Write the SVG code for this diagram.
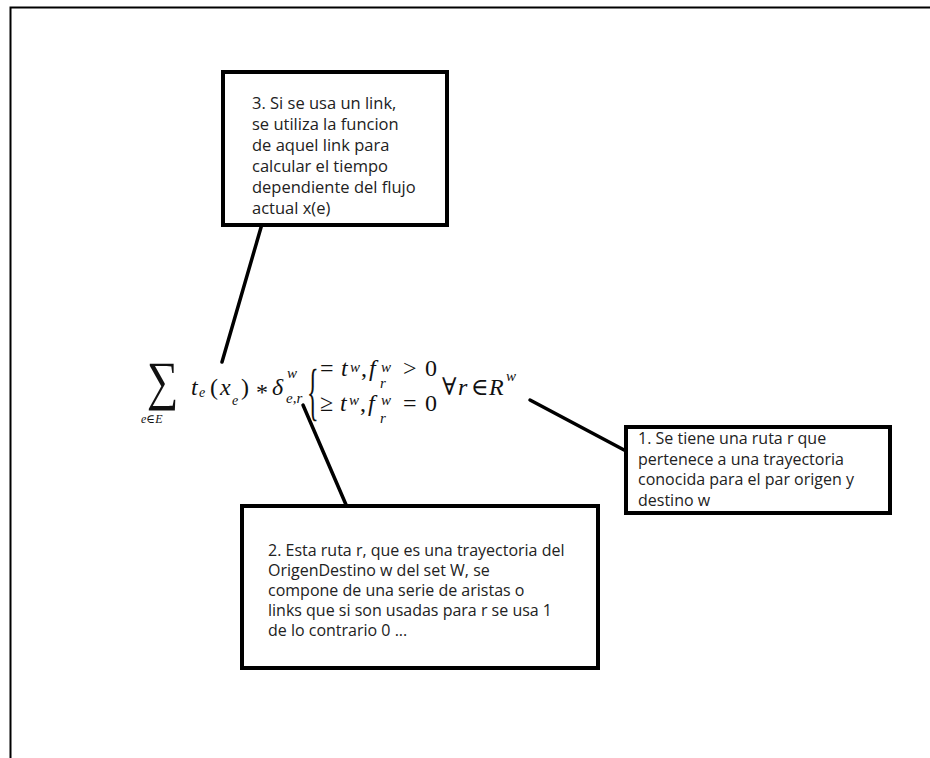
<svg xmlns="http://www.w3.org/2000/svg" width="930" height="758" viewBox="0 0 930 758">
<style>
.box{fill:#fff;stroke:#000;stroke-width:4}
.lbl{font-family:"Open Sans","Noto Sans",sans-serif;fill:#222}
.m{font-family:"Liberation Serif","DejaVu Serif",serif;fill:#111}
.i{font-style:italic}
.conn{stroke:#000;stroke-width:3.5;stroke-linecap:round}
</style>
<rect width="930" height="758" fill="#fff"/>
<path d="M10.5,758 V7.5 H930" fill="none" stroke="#000" stroke-width="2"/>

<g id="connectors">
<line class="conn" x1="262" y1="224" x2="222" y2="362"/>
<line class="conn" x1="303" y1="405" x2="347" y2="507"/>
<line class="conn" x1="530" y1="400" x2="626" y2="451"/>
</g>

<g id="formula" class="m">
<text x="0" y="0" font-size="54" transform="translate(147,399) scale(0.82,1)">∑</text>
<text x="141" y="423" font-size="12" class="i">e∈E</text>
<text x="191" y="395" font-size="24" class="i">t</text>
<text x="199" y="397" font-size="14" class="i">e</text>
<text x="210" y="395" font-size="24">(</text>
<text x="220" y="395" font-size="24" class="i">x</text>
<text x="232" y="405" font-size="14" class="i">e</text>
<text x="241" y="395" font-size="24">)</text>
<text x="256" y="400" font-size="24">*</text>
<text x="272" y="395" font-size="24" class="i">δ</text>
<text x="287" y="378" font-size="15" class="i">w</text>
<text x="286" y="403" font-size="15" class="i">e,r</text>
<text x="0" y="0" font-size="22" transform="translate(307,413) scale(1.1,2.85)">{</text>
<text x="320" y="376" font-size="24">=</text>
<text x="341" y="376" font-size="24" class="i">t</text>
<text x="350" y="372" font-size="15" class="i">w</text>
<text x="361" y="376" font-size="24">,</text>
<text x="369" y="376" font-size="24" class="i">f</text>
<text x="381" y="372" font-size="15" class="i">w</text>
<text x="380" y="388" font-size="15" class="i">r</text>
<text x="403" y="376" font-size="24">&gt;</text>
<text x="425" y="376" font-size="24">0</text>
<text x="320" y="411" font-size="24">≥</text>
<text x="340" y="411" font-size="24" class="i">t</text>
<text x="349" y="405" font-size="15" class="i">w</text>
<text x="360" y="411" font-size="24">,</text>
<text x="368" y="411" font-size="24" class="i">f</text>
<text x="381" y="405" font-size="15" class="i">w</text>
<text x="380" y="423" font-size="15" class="i">r</text>
<text x="403" y="411" font-size="24">=</text>
<text x="425" y="411" font-size="24">0</text>
<text x="442" y="395" font-size="24">∀</text>
<text x="458" y="395" font-size="24" class="i">r</text>
<text x="471" y="395" font-size="24">∈</text>
<text x="489" y="395" font-size="24" class="i">R</text>
<text x="506" y="381" font-size="15" class="i">w</text>
</g>

<g id="node3">
<rect class="box" x="223" y="72" width="224" height="153"/>
<text class="lbl" font-size="16.5"><tspan x="252" y="109">3. Si se usa un link,</tspan><tspan x="252" y="130">se utiliza la funcion</tspan><tspan x="252" y="151">de aquel link para</tspan><tspan x="252" y="172">calcular el tiempo</tspan><tspan x="252" y="193">dependiente del flujo</tspan><tspan x="252" y="214">actual x(e)</tspan></text>
</g>

<g id="node1">
<rect class="box" x="626" y="427" width="264" height="86"/>
<text class="lbl" font-size="16"><tspan x="638" y="444">1. Se tiene una ruta r que</tspan><tspan x="638" y="464.5">pertenece a una trayectoria</tspan><tspan x="638" y="485">conocida para el par origen y</tspan><tspan x="638" y="505.5">destino w</tspan></text>
</g>

<g id="node2">
<rect class="box" x="242" y="506" width="356" height="162"/>
<text class="lbl" font-size="16"><tspan x="268" y="556">2. Esta ruta r, que es una trayectoria del</tspan><tspan x="268" y="576">OrigenDestino w del set W, se</tspan><tspan x="268" y="596">compone de una serie de aristas o</tspan><tspan x="268" y="616">links que si son usadas para r se usa 1</tspan><tspan x="268" y="636">de lo contrario 0 ...</tspan></text>
</g>
</svg>
